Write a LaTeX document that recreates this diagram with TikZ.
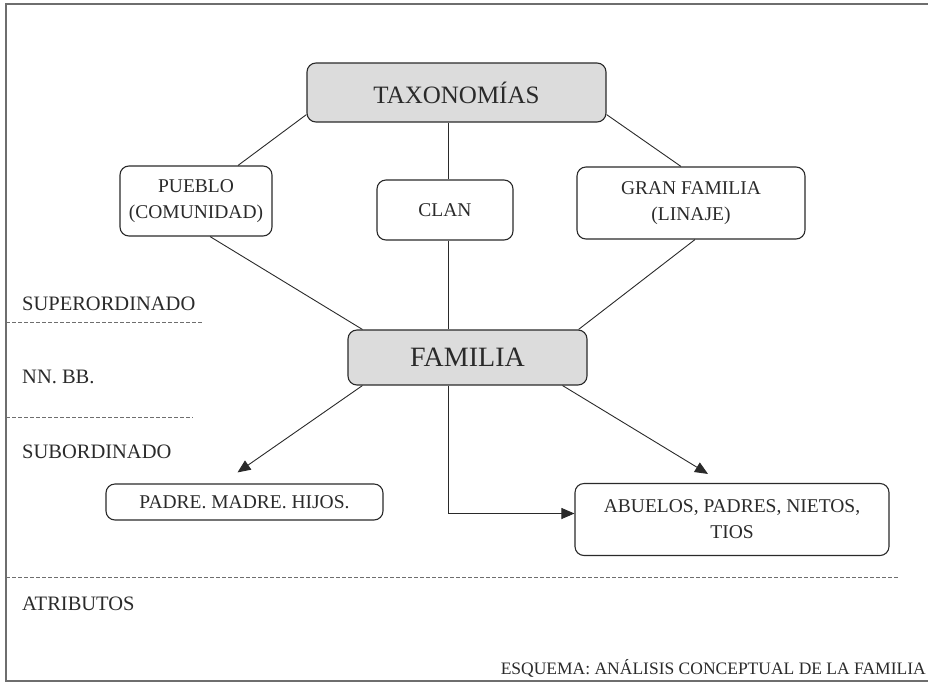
\documentclass[tikz,border=0pt]{standalone}
\usepackage{fontspec}
\setmainfont{Liberation Serif}
\usetikzlibrary{arrows.meta,calc}
\definecolor{ink}{HTML}{2A2A2A}
\definecolor{boxgray}{HTML}{DCDCDC}
\definecolor{framegray}{HTML}{6E6E6E}
\begin{document}
\begin{tikzpicture}[x=1pt,y=-1pt,
  every node/.style={text=ink},
  rbox/.style={draw=ink, line width=1.1pt, rounded corners=9pt, align=center, inner sep=0pt},
  graybox/.style={rbox, fill=boxgray},
  conn/.style={draw=ink, line width=0.9pt},
  arr/.style={conn, -{Triangle[length=13pt,width=11pt]}},
  sep/.style={draw=framegray, line width=0.7pt, dash pattern=on 3.5pt off 2.5pt},
  lbl/.style={anchor=west, font=\fontsize{20.5}{24}\selectfont, inner sep=0pt},
  btext/.style={font=\fontsize{19.5}{26}\selectfont}
]
\useasboundingbox (0,0) rectangle (928,683);
% frame
\draw[framegray, line width=1.4pt] (928,4) -- (6,4) -- (6,681) -- (928,681);

% nodes
\node[graybox, minimum width=299pt, minimum height=59pt, font=\fontsize{25}{28}\selectfont] (tax) at (456.5,92.5) {TAXONOMÍAS};
\node[rbox, btext, minimum width=152pt, minimum height=70pt] (pueblo) at (196,201) {PUEBLO\\(COMUNIDAD)};
\node[rbox, btext, minimum width=136pt, minimum height=60pt] (clan) at (445,210) {CLAN};
\node[rbox, btext, minimum width=228pt, minimum height=72pt] (gran) at (691,203) {GRAN FAMILIA\\(LINAJE)};
\node[graybox, minimum width=239pt, minimum height=55pt, font=\fontsize{28}{32}\selectfont] (fam) at (467.5,357.5) {FAMILIA};
\node[rbox, btext, minimum width=277pt, minimum height=36pt] (padre) at (244.5,502) {PADRE. MADRE. HIJOS.};
\node[rbox, btext, minimum width=314pt, minimum height=72pt] (abuelos) at (732,519.5) {ABUELOS, PADRES, NIETOS,\\TIOS};

\coordinate (cx) at (448,0);

% connectors
\draw[conn] ($(tax.south west)+(0,-8)$) -- ($(pueblo.north)+(42,0)$);
\draw[conn] ($(tax.south east)+(0,-8)$) -- ($(gran.north)+(-10,0)$);
\draw[conn] (tax.south -| cx) -- (clan.north -| cx);
\draw[conn] (clan.south -| cx) -- (fam.north -| cx);
\draw[conn] ($(pueblo.south)+(14,0)$) -- ($(fam.north west)+(15,0)$);
\draw[conn] ($(gran.south)+(4,0)$) -- ($(fam.north east)+(-9,0)$);

\coordinate (tipL) at ($(padre.north)+(-7,-11)$);
\coordinate (tipR) at ($(abuelos.north)+(-24,-9)$);
\draw[arr] ($(fam.south west)+(15,0)$) -- (tipL);
\draw[arr] ($(fam.south east)+(-25,0)$) -- (tipR);
\draw[arr] (fam.south -| cx) |- ($(abuelos.west)+(0,-6)$);

% separators
\draw[sep] (6,322) -- (202,322);
\draw[sep] (6,417) -- (193,417);
\draw[sep] (6,577) -- (898,577);

% level labels
\node[lbl] (sup) at (22,304) {SUPERORDINADO};
\node[lbl] (nnbb) at (22,377) {NN. BB.};
\node[lbl] (sub) at (22,452) {SUBORDINADO};
\node[lbl] (atr) at (22,604) {ATRIBUTOS};
\node[anchor=base east, inner sep=0pt, font=\fontsize{17.5}{20}\selectfont] (cap) at (926,674) {ESQUEMA: ANÁLISIS CONCEPTUAL DE LA FAMILIA};
\end{tikzpicture}
\end{document}
